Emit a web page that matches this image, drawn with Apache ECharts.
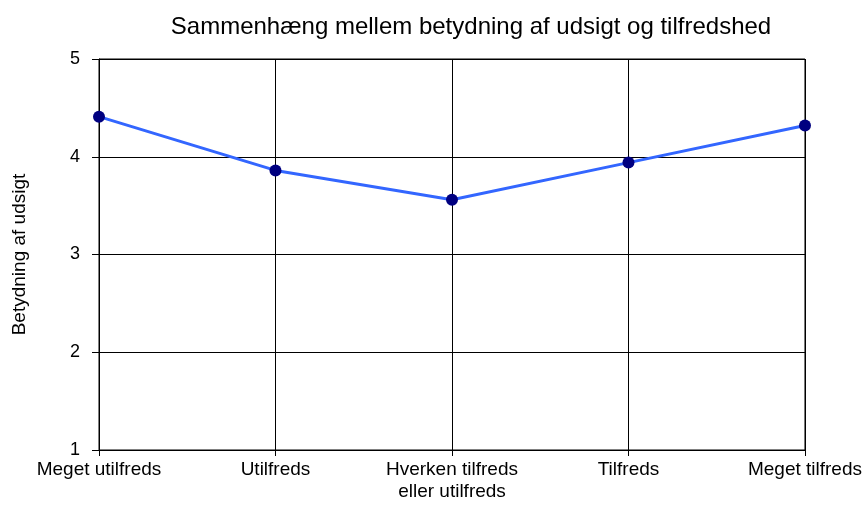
<!DOCTYPE html>
<html><head><meta charset="utf-8">
<script src="https://cdn.jsdelivr.net/npm/echarts@6/dist/echarts.min.js"></script>
<style>html,body{margin:0;padding:0;background:#fff}#c{width:865px;height:511px}</style>
</head><body><div id="c"></div>
<script>
const categories = ["Meget utilfreds", "Utilfreds", "Hverken tilfreds\neller utilfreds", "Tilfreds", "Meget tilfreds"];
const values = [4.41, 3.86, 3.56, 3.94, 4.32];
const yTicks = [1, 2, 3, 4, 5];
const titleText = "Sammenhæng mellem betydning af udsigt og tilfredshed";
const yName = "Betydning af udsigt";

const chart = echarts.init(document.getElementById('c'));
const font = 'Liberation Sans, Arial, sans-serif';
chart.setOption({
  animation: false,
  title: { text: titleText, left: 466, top: 10, textAlign: 'center',
    textStyle: { fontFamily: font, fontSize: 24, fontWeight: 'normal', color: '#000' } },
  grid: { left: 99, right: 59, top: 59, bottom: 61, show: true, borderColor: '#000', borderWidth: 1 },
  xAxis: {
    type: 'category', data: categories, boundaryGap: false,
    axisLine: { lineStyle: { color: '#000', width: 1 } },
    axisTick: { show: true, length: 6, lineStyle: { color: '#000' } },
    axisLabel: { fontFamily: font, fontSize: 19, color: '#000', margin: 9, lineHeight: 22, interval: 0 },
    splitLine: { show: true, lineStyle: { color: '#000', width: 1 } }
  },
  yAxis: {
    type: 'value', min: yTicks[0], max: yTicks[yTicks.length - 1], interval: 1,
    name: yName, nameLocation: 'middle', nameGap: 70,
    nameTextStyle: { fontFamily: font, fontSize: 19, color: '#000' },
    axisLine: { show: true, lineStyle: { color: '#000', width: 1 } },
    axisTick: { show: true, length: 7, lineStyle: { color: '#000' } },
    axisLabel: { fontFamily: font, fontSize: 18, color: '#000', margin: 19 },
    splitLine: { show: true, lineStyle: { color: '#000', width: 1 } }
  },
  series: [{
    type: 'line', data: values, symbol: 'circle', symbolSize: 12,
    lineStyle: { color: '#3366ff', width: 3 },
    itemStyle: { color: '#000080' }
  }]
});
</script></body></html>
